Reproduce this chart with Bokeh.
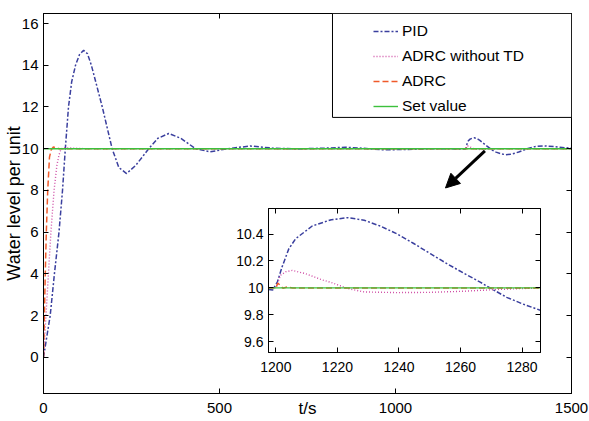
from bokeh.plotting import figure
from bokeh.models import (Range1d, LinearAxis, FixedTicker, PrintfTickFormatter, Legend,
                          LegendItem, BoxAnnotation, Arrow, NormalHead, GridBox)
from bokeh.embed import file_html
from bokeh.resources import INLINE

FONT = "Liberation Sans"

# ---------------- data ----------------
pid_t = [0, 19, 31, 44, 54, 62, 71, 80, 91, 102, 114, 125, 136, 150, 167, 181, 195, 214, 236, 262,
         299, 325, 356, 390, 432, 474, 522, 588, 650, 720, 807, 858, 909, 960, 1023, 1100, 1197, 1199,
         1200.5, 1202, 1204.2, 1206.4, 1211.8, 1218, 1223.4, 1228.7, 1234.1, 1239.5, 1244.8, 1250.2,
         1255.6, 1261, 1266.4, 1269.6, 1275, 1280.3, 1285.7, 1300, 1313, 1330, 1350, 1374, 1395, 1421,
         1450, 1480, 1500]
pid_v = [0, 2, 4, 6, 8, 10, 12, 13.2, 14, 14.5, 14.72, 14.55, 14, 13.1, 12, 11, 10, 9.1, 8.81, 9.2,
         10, 10.5, 10.73, 10.5, 10, 9.85, 10, 10.13, 10.03, 9.99, 10.03, 10.07, 10.02, 9.95, 9.96, 10.0,
         9.99, 9.985, 10.045, 10.155, 10.29, 10.365, 10.46, 10.507, 10.522, 10.503, 10.458, 10.40,
         10.33, 10.254, 10.18, 10.11, 10.043, 10.0, 9.93, 9.88, 9.836, 9.76, 9.71, 9.74, 9.84, 10.0,
         10.1, 10.14, 10.1, 10.05, 10.03]

notd_t = [0, 7, 14, 21, 30, 38, 44, 50, 60, 80, 120, 1199, 1200, 1201.5, 1203.2, 1205.3, 1209.6,
          1215, 1218, 1223.4, 1228.7, 1239.5, 1250.2, 1261, 1271.7, 1285.7, 1320, 1380, 1500]
notd_v = [0, 2, 4, 6, 8, 9.2, 9.7, 10.0, 10.05, 10.03, 10.0, 10.0, 10.0, 10.094, 10.12, 10.13, 10.106,
          10.06, 10.04, 9.995, 9.97, 9.965, 9.967, 9.975, 9.988, 10.0, 10.0, 10.0, 10.0]

adrc_t = [0, 2.5, 5, 8, 12, 17, 22, 28, 35, 45, 60, 1199, 1200, 1200.6, 1201.4, 1202.3, 1203.7,
          1205.5, 1500]
adrc_v = [0, 2, 4, 6, 8, 9.6, 9.95, 10.08, 10.04, 10.0, 10.0, 10.0, 10.0, 10.035, 10.02, 9.998,
          10.007, 10.0, 10.0]

set_t = [0, 1500]
set_v = [10, 10]

series_names = ["PID", "ADRC without TD", "ADRC", "Set value"]

main_xticks = [0, 500, 1000, 1500]
main_yticks = [0, 2, 4, 6, 8, 10, 12, 14, 16]
ins_xticks = [1200, 1220, 1240, 1260, 1280]
ins_yticks = [9.6, 9.8, 10, 10.2, 10.4]

C_PID = "#3a3f9e"
C_NOTD = "#d04fa6"
C_ADRC = "#f05a2a"
C_SET = "#3cc03c"


def cfg_axis(ax, ticks, size, show=True, standoff=5):
    ax.ticker = FixedTicker(ticks=ticks)
    ax.formatter = PrintfTickFormatter(format="%g")
    ax.major_tick_in = 5
    ax.major_tick_out = 0
    ax.minor_tick_line_color = None
    ax.axis_line_color = "black"
    ax.major_tick_line_color = "black"
    ax.major_label_text_font = FONT
    ax.major_label_text_color = "black"
    ax.major_label_text_font_size = size
    ax.major_label_standoff = standoff
    if not show:
        ax.major_label_text_font_size = "0px"
        ax.major_label_text_color = None
        ax.major_label_standoff = 0


def draw_series(fig):
    r1 = fig.line(pid_t, pid_v, line_color=C_PID, line_width=1.5, line_dash="5 2 2 2")
    r2 = fig.line(notd_t, notd_v, line_color=C_NOTD, line_width=1.4, line_dash="1 2")
    r3 = fig.line(adrc_t, adrc_v, line_color=C_ADRC, line_width=1.5, line_dash="6 3")
    r4 = fig.line(set_t, set_v, line_color=C_SET, line_width=1.4)
    return [r1, r2, r3, r4]


# ---------------- main figure ----------------
p = figure(width=589, height=421, output_backend="svg", toolbar_location=None,
           x_range=Range1d(0, 1500), y_range=Range1d(-1.73, 16.48),
           min_border_left=43, min_border_right=18, min_border_top=13, min_border_bottom=28,
           background_fill_color="white", border_fill_color="white")
p.xgrid.visible = False
p.ygrid.visible = False
p.outline_line_color = "black"
p.outline_line_alpha = 1

cfg_axis(p.xaxis[0], main_xticks, "15px", standoff=9)
p.xaxis[0].axis_label = "t/s"
p.xaxis[0].axis_label_text_font = FONT
p.xaxis[0].axis_label_text_font_size = "17px"
p.xaxis[0].axis_label_text_font_style = "normal"
p.xaxis[0].axis_label_text_color = "black"
p.xaxis[0].axis_label_standoff = -17

cfg_axis(p.yaxis[0], main_yticks, "15px", standoff=5)
p.yaxis[0].axis_label = "Water level per unit"
p.yaxis[0].axis_label_text_font = FONT
p.yaxis[0].axis_label_text_font_size = "18px"
p.yaxis[0].axis_label_text_font_style = "normal"
p.yaxis[0].axis_label_text_color = "black"
p.yaxis[0].axis_label_standoff = -5

top_ax = LinearAxis()
cfg_axis(top_ax, main_xticks, "15px", show=False)
p.add_layout(top_ax, "above")
right_ax = LinearAxis()
cfg_axis(right_ax, main_yticks, "15px", show=False)
p.add_layout(right_ax, "right")

rs = draw_series(p)

box = BoxAnnotation(left=821, right=1500, bottom=11.50, top=16.48, fill_color="white", fill_alpha=1,
                    line_color="black", line_width=1, line_alpha=1)
p.add_layout(box)

legend = Legend(items=[LegendItem(label=n, renderers=[r]) for n, r in zip(series_names, rs)],
                location=(330, 277), padding=0, spacing=5, margin=0,
                label_height=20, glyph_height=20, glyph_width=25, label_standoff=4,
                border_line_color=None, background_fill_alpha=0,
                label_text_font=FONT, label_text_font_size="15.5px", label_text_color="black")
p.add_layout(legend)

p.add_layout(Arrow(end=NormalHead(size=14, fill_color="black", line_color="black"),
                   x_start=1254, y_start=9.9, x_end=1142, y_end=8.12,
                   line_width=3, line_color="black"))

# ---------------- inset figure ----------------
ins = figure(width=312, height=173, output_backend="svg", toolbar_location=None,
             x_range=Range1d(1197.6, 1286), y_range=Range1d(9.52, 10.59),
             min_border_left=36, min_border_right=4, min_border_top=3, min_border_bottom=26,
             background_fill_color="white", border_fill_alpha=0)
ins.xgrid.visible = False
ins.ygrid.visible = False
ins.outline_line_color = "black"
ins.outline_line_alpha = 1
cfg_axis(ins.xaxis[0], ins_xticks, "14px", standoff=9)
cfg_axis(ins.yaxis[0], ins_yticks, "14px", standoff=5)
itop = LinearAxis()
cfg_axis(itop, ins_xticks, "14px", show=False)
ins.add_layout(itop, "above")
iright = LinearAxis()
cfg_axis(iright, ins_yticks, "14px", show=False)
ins.add_layout(iright, "right")
draw_series(ins)

grid = GridBox(children=[(p, 0, 0, 3, 3), (ins, 1, 1, 1, 1)],
               rows=["205px", "173px", "43px"], cols=["232px", "312px", "45px"])

open("out.html", "w").write(file_html(grid, INLINE))
